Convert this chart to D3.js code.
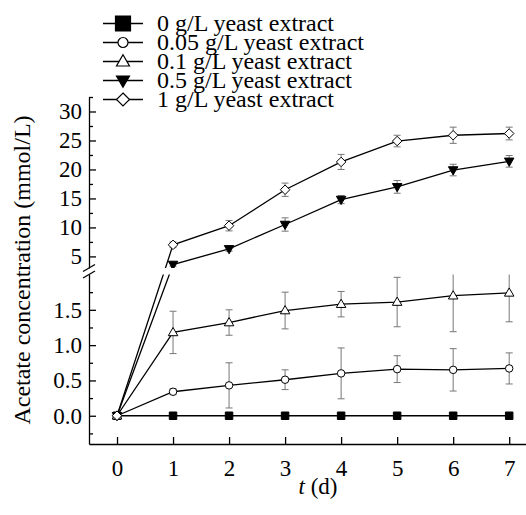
<!DOCTYPE html>
<html>
<head>
<meta charset="utf-8">
<script src="https://cdn.jsdelivr.net/npm/d3@7"></script>
<style>
	body { margin: 0; background: #fff; }
	svg text { font-family: "Liberation Serif", "Times New Roman", serif; fill: #000; }
</style>
</head>
<body>
<div id="chart"></div>
<script>
// sampling days
const days = [0, 1, 2, 3, 4, 5, 6, 7];

// legend labels, one per series
const seriesNames = [
	'0 g/L yeast extract',
	'0.05 g/L yeast extract',
	'0.1 g/L yeast extract',
	'0.5 g/L yeast extract',
	'1 g/L yeast extract'
];
const seriesMarkers = ['square', 'circle', 'triangle', 'triangleDown', 'diamond'];

// acetate concentration (mmol/L) and error bars
const conc0   = [0, 0, 0, 0, 0, 0, 0, 0];
const err0    = [0, 0, 0, 0, 0, 0, 0, 0];
const conc005 = [0, 0.34, 0.43, 0.51, 0.60, 0.66, 0.65, 0.67];
const err005  = [0, 0.04, 0.32, 0.14, 0.36, 0.19, 0.30, 0.22];
const conc01  = [0, 1.18, 1.32, 1.49, 1.58, 1.61, 1.70, 1.74];
const err01   = [0, 0.30, 0.18, 0.26, 0.18, 0.35, 0.51, 0.41];
const conc05  = [0, 3.6, 6.3, 10.5, 14.8, 17.0, 19.9, 21.4];
const err05   = [0, 0.3, 0.4, 1.15, 0.7, 1.1, 1.0, 1.0];
const conc1   = [0, 7.0, 10.3, 16.5, 21.3, 24.9, 25.9, 26.2];
const err1    = [0, 0.5, 0.9, 1.15, 1.3, 1.0, 1.4, 1.1];

// axis ticks (broken y axis: lower and upper segment)
const lowTicks = [0, 0.5, 1.0, 1.5];
const lowMinorTicks = [-0.25, 0.25, 0.75, 1.25, 1.75];
const highTicks = [5, 10, 15, 20, 25, 30];
const highMinorTicks = [7.5, 12.5, 17.5, 22.5, 27.5, 32.5];

class BrokenAxisChart {
	constructor(_config, _series) {
		this.config = {
			parentElement: _config.parentElement,
			containerWidth: 526,
			containerHeight: 515,
			axisX: 89,
			rightX: 526,
			bottomY: 444,
			topY: 97,
			lowTopY: 274.5,
			highBottomY: 268,
			lowDomain: [-0.4, 2.0],
			highDomain: [3.0, 32.5],
			xDomain: [-0.5, 7.3]
		};
		this.series = _series;
		this.initVis();
	}

	initVis() {
		let vis = this;
		const c = vis.config;

		vis.svg = d3.select(c.parentElement).append('svg')
			.attr('width', c.containerWidth)
			.attr('height', c.containerHeight);

		vis.xScale = d3.scaleLinear()
			.domain(c.xDomain)
			.range([c.axisX, c.rightX]);

		vis.yLow = d3.scaleLinear().domain(c.lowDomain).range([c.bottomY, c.lowTopY]);
		vis.yHigh = d3.scaleLinear().domain(c.highDomain).range([c.highBottomY, c.topY]);

		//piecewise scale so a single line can cross the break
		vis.yScale = d3.scaleLinear()
			.domain([c.lowDomain[0], c.lowDomain[1], c.highDomain[0], c.highDomain[1]])
			.range([c.bottomY, c.lowTopY, c.highBottomY, c.topY]);

		vis.renderAxes();
		vis.renderVis();
		vis.renderLegend();
	}

	markerPath(type, s) {
		const h = s * 0.866;
		switch (type) {
			case 'square':
				return `M${-s/2},${-s/2}H${s/2}V${s/2}H${-s/2}Z`;
			case 'circle':
				return d3.symbol(d3.symbolCircle, Math.PI * (s/2) * (s/2))();
			case 'triangle':
				return `M0,${-h*0.6}L${s/2},${h*0.4}L${-s/2},${h*0.4}Z`;
			case 'triangleDown':
				return `M0,${h*0.6}L${s/2},${-h*0.4}L${-s/2},${-h*0.4}Z`;
			case 'diamond':
				return `M0,${-s/2}L${s/2},0L0,${s/2}L${-s/2},0Z`;
		}
	}

	markerFill(type) {
		return (type === 'square' || type === 'triangleDown') ? '#000' : '#fff';
	}

	renderAxes() {
		let vis = this;
		const c = vis.config;

		//x axis, ticks pointing inward
		vis.svg.append('g')
			.attr('class', 'x-axis')
			.attr('transform', `translate(0,${c.bottomY})`)
			.call(d3.axisBottom(vis.xScale)
				.tickValues(days)
				.tickFormat(d3.format('d'))
				.tickSize(-7)
				.tickSizeOuter(0)
				.tickPadding(16))
			.call(g => g.selectAll('text').style('font-size', '23px'));

		//lower y segment
		vis.svg.append('g')
			.attr('transform', `translate(${c.axisX},0)`)
			.call(d3.axisLeft(vis.yLow)
				.tickValues(lowTicks)
				.tickFormat(d3.format('.1f'))
				.tickSize(-7)
				.tickSizeOuter(0)
				.tickPadding(7))
			.call(g => g.selectAll('text').style('font-size', '23px'));

		vis.svg.append('g')
			.attr('transform', `translate(${c.axisX},0)`)
			.call(d3.axisLeft(vis.yLow)
				.tickValues(lowMinorTicks)
				.tickFormat('')
				.tickSize(-4)
				.tickSizeOuter(0))
			.call(g => g.select('.domain').remove());

		//upper y segment
		vis.svg.append('g')
			.attr('transform', `translate(${c.axisX},0)`)
			.call(d3.axisLeft(vis.yHigh)
				.tickValues(highTicks)
				.tickFormat(d3.format('d'))
				.tickSize(-7)
				.tickSizeOuter(0)
				.tickPadding(7))
			.call(g => g.selectAll('text').style('font-size', '23px'));

		vis.svg.append('g')
			.attr('transform', `translate(${c.axisX},0)`)
			.call(d3.axisLeft(vis.yHigh)
				.tickValues(highMinorTicks)
				.tickFormat('')
				.tickSize(-4)
				.tickSizeOuter(0))
			.call(g => g.select('.domain').remove());

		vis.svg.selectAll('.domain, .tick line')
			.attr('stroke', '#000')
			.attr('stroke-width', 1.3);

		//axis titles
		vis.svg.append('text')
			.attr('transform', 'translate(30,270) rotate(-90)')
			.attr('text-anchor', 'middle')
			.style('font-size', '24px')
			.text('Acetate concentration (mmol/L)');

		const xTitle = vis.svg.append('text')
			.attr('x', 318)
			.attr('y', 494)
			.attr('text-anchor', 'middle')
			.style('font-size', '23px');
		xTitle.append('tspan').style('font-style', 'italic').text('t');
		xTitle.append('tspan').text(' (d)');
	}

	renderVis() {
		let vis = this;
		const c = vis.config;

		const line = d3.line()
			.x(d => vis.xScale(d.day))
			.y(d => vis.yScale(d.value));

		const groups = vis.svg.selectAll('.series')
			.data(vis.series)
			.join('g')
			.attr('class', 'series');

		groups.append('path')
			.attr('d', s => line(s.points))
			.attr('fill', 'none')
			.attr('stroke', '#000')
			.attr('stroke-width', 1.3);

		//error bars
		groups.selectAll('.err')
			.data(s => s.points.filter(p => p.err > 0))
			.join('path')
			.attr('class', 'err')
			.attr('d', p => {
				const x = vis.xScale(p.day);
				const y0 = vis.yScale(p.value - p.err);
				const y1 = vis.yScale(p.value + p.err);
				return `M${x},${y0}V${y1}M${x - 3.5},${y0}H${x + 3.5}M${x - 3.5},${y1}H${x + 3.5}`;
			})
			.attr('fill', 'none')
			.attr('stroke', '#777')
			.attr('stroke-width', 1);

		//markers
		groups.selectAll('.marker')
			.data(s => s.points.map(p => ({...p, marker: s.marker})))
			.join('path')
			.attr('class', 'marker')
			.attr('transform', p => `translate(${vis.xScale(p.day)},${vis.yScale(p.value)})`)
			.attr('d', p => vis.markerPath(p.marker, p.marker === 'circle' ? 7.5 : p.marker === 'square' ? 7.5 : 9.5))
			.attr('fill', p => vis.markerFill(p.marker))
			.attr('stroke', '#000')
			.attr('stroke-width', 1);

		//white band for the axis break
		vis.svg.append('rect')
			.attr('x', c.axisX + 1)
			.attr('y', c.highBottomY)
			.attr('width', c.rightX - c.axisX)
			.attr('height', c.lowTopY - c.highBottomY)
			.attr('fill', '#fff');

		//break marks on the y axis
		[c.highBottomY, c.lowTopY].forEach(y => {
			vis.svg.append('line')
				.attr('x1', c.axisX - 6).attr('y1', y + 3.5)
				.attr('x2', c.axisX + 6).attr('y2', y - 3.5)
				.attr('stroke', '#000')
				.attr('stroke-width', 1.3);
		});
	}

	renderLegend() {
		let vis = this;

		const legend = vis.svg.append('g')
			.attr('class', 'legend');

		const rows = legend.selectAll('.legend-row')
			.data(vis.series)
			.join('g')
			.attr('class', 'legend-row')
			.attr('transform', (d, i) => `translate(0,${23.5 + i * 19})`);

		rows.append('line')
			.attr('x1', 103).attr('x2', 143)
			.attr('stroke', '#000')
			.attr('stroke-width', 1.3);

		rows.append('path')
			.attr('transform', 'translate(123,0)')
			.attr('d', d => vis.markerPath(d.marker, d.marker === 'circle' ? 10 : d.marker === 'square' ? 15 : 13))
			.attr('fill', d => vis.markerFill(d.marker))
			.attr('stroke', '#000')
			.attr('stroke-width', 1.2);

		rows.append('text')
			.attr('x', 157)
			.attr('dy', '0.33em')
			.style('font-size', '24px')
			.text(d => d.name);
	}
}

const concs = [conc0, conc005, conc01, conc05, conc1];
const errs = [err0, err005, err01, err05, err1];

const series = seriesNames.map((name, i) => ({
	name: name,
	marker: seriesMarkers[i],
	points: days.map((day, j) => ({day: day, value: concs[i][j], err: errs[i][j]}))
}));

new BrokenAxisChart({parentElement: '#chart'}, series);
</script>
</body>
</html>
